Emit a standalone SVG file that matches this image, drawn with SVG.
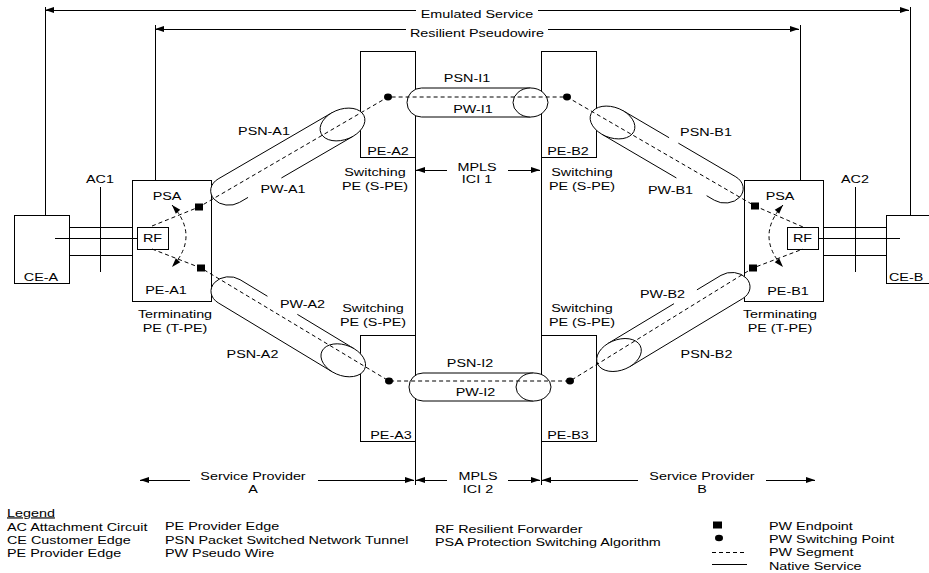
<svg xmlns="http://www.w3.org/2000/svg" width="929" height="573" viewBox="0 0 929 573">
<defs>
<style>
.ln{stroke:#000;stroke-width:1;fill:none}
.cr{shape-rendering:crispEdges}
.bx{stroke:#000;stroke-width:1;fill:none;shape-rendering:crispEdges}
.da{stroke:#000;stroke-width:1;fill:none;stroke-dasharray:4 3}
.tb{fill:#fff;stroke:none}
.el{fill:#fff;stroke:#000;stroke-width:1}
.ns{vector-effect:non-scaling-stroke}
.ep{fill:#000;stroke:none}
text{font-family:"Liberation Sans",Arial,Helvetica,sans-serif;font-size:11.5px;fill:#000}
.c{text-anchor:middle}
.u{text-decoration:underline}
</style>
<marker id="ah" markerUnits="userSpaceOnUse" markerWidth="10" markerHeight="7" refX="9" refY="3" orient="auto-start-reverse" overflow="visible"><path d="M0,0 L9,3 L0,6 Z" fill="#000"/></marker>
</defs>
<rect width="929" height="573" fill="#fff"/>

<g id="connectors">
  <g class="ln cr">
    <line x1="45" y1="7" x2="45" y2="215"/>
    <line x1="910" y1="7" x2="910" y2="215"/>
    <line x1="155" y1="25" x2="155" y2="180"/>
    <line x1="800" y1="25" x2="800" y2="180"/>
    <line x1="416" y1="10" x2="45" y2="10" marker-end="url(#ah)"/>
    <line x1="538" y1="10" x2="909" y2="10" marker-end="url(#ah)"/>
    <line x1="406" y1="29" x2="155" y2="29" marker-end="url(#ah)"/>
    <line x1="548" y1="29" x2="799" y2="29" marker-end="url(#ah)"/>
    <line x1="69" y1="227" x2="132" y2="227"/>
    <line x1="55" y1="238" x2="137" y2="238"/>
    <line x1="69" y1="255" x2="132" y2="255"/>
    <line x1="100" y1="187" x2="100" y2="272"/>
    <line x1="823" y1="227" x2="886" y2="227"/>
    <line x1="818" y1="238" x2="900" y2="238"/>
    <line x1="823" y1="255" x2="886" y2="255"/>
    <line x1="855" y1="187" x2="855" y2="272"/>
    <line x1="415" y1="51" x2="415" y2="485"/>
    <line x1="541" y1="51" x2="541" y2="485"/>
    <line x1="447" y1="170" x2="416" y2="170" marker-end="url(#ah)"/>
    <line x1="508" y1="170" x2="540" y2="170" marker-end="url(#ah)"/>
    <line x1="190" y1="480" x2="140" y2="480" marker-end="url(#ah)"/>
    <line x1="318" y1="480" x2="414" y2="480" marker-end="url(#ah)"/>
    <line x1="447" y1="480" x2="416" y2="480" marker-end="url(#ah)"/>
    <line x1="508" y1="480" x2="540" y2="480" marker-end="url(#ah)"/>
    <line x1="638" y1="480" x2="542" y2="480" marker-end="url(#ah)"/>
    <line x1="766" y1="480" x2="815" y2="480" marker-end="url(#ah)"/>
  </g>
  <text class="c" transform="matrix(1.25 0 0 1 477 18)">Emulated Service</text>
  <text class="c" transform="matrix(1.25 0 0 1 477 37)">Resilient Pseudowire</text>
  <text class="c" transform="matrix(1.25 0 0 1 100 183)">AC1</text>
  <text class="c" transform="matrix(1.25 0 0 1 855 183)">AC2</text>
  <text class="c" transform="matrix(1.25 0 0 1 477 170.5)">MPLS</text>
  <text class="c" transform="matrix(1.25 0 0 1 477 182.5)">ICI 1</text>
  <text class="c" transform="matrix(1.25 0 0 1 253 480)">Service Provider</text>
  <text class="c" transform="matrix(1.25 0 0 1 253 493)">A</text>
  <text class="c" transform="matrix(1.25 0 0 1 478 479.5)">MPLS</text>
  <text class="c" transform="matrix(1.25 0 0 1 478 493)">ICI 2</text>
  <text class="c" transform="matrix(1.25 0 0 1 702 480)">Service Provider</text>
  <text class="c" transform="matrix(1.25 0 0 1 702 493)">B</text>
</g>

<g id="ce-a">
  <rect class="bx" x="14" y="215" width="55" height="68"/>
  <text class="c" transform="matrix(1.25 0 0 1 41 281)">CE-A</text>
</g>
<g id="ce-b">
  <rect class="bx" x="886" y="215" width="55" height="68"/>
  <text transform="matrix(1.25 0 0 1 889 281)">CE-B</text>
</g>

<g id="pe-a1">
  <rect class="bx" x="132" y="180" width="79" height="121"/>
  <rect class="bx" x="137" y="227" width="31" height="22"/>
  <text class="c" transform="matrix(1.25 0 0 1 167 200)">PSA</text>
  <text class="c" transform="matrix(1.25 0 0 1 152.5 242)">RF</text>
  <text class="c" transform="matrix(1.25 0 0 1 166 293.5)">PE-A1</text>
  <text class="c" transform="matrix(1.25 0 0 1 175 318)">Terminating</text>
  <text class="c" transform="matrix(1.25 0 0 1 175 332)">PE (T-PE)</text>
</g>
<g id="pe-b1">
  <rect class="bx" x="744" y="180" width="79" height="121"/>
  <rect class="bx" x="787" y="227" width="31" height="22"/>
  <text class="c" transform="matrix(1.25 0 0 1 780 200)">PSA</text>
  <text class="c" transform="matrix(1.25 0 0 1 802.5 242)">RF</text>
  <text class="c" transform="matrix(1.25 0 0 1 788 295)">PE-B1</text>
  <text class="c" transform="matrix(1.25 0 0 1 780 318)">Terminating</text>
  <text class="c" transform="matrix(1.25 0 0 1 780 332)">PE (T-PE)</text>
</g>
<g id="pe-a2">
  <rect class="bx" x="360" y="51" width="55" height="106"/>
  <text class="c" transform="matrix(1.25 0 0 1 388 155)">PE-A2</text>
  <text class="c" transform="matrix(1.25 0 0 1 375 175.5)">Switching</text>
  <text class="c" transform="matrix(1.25 0 0 1 375 190)">PE (S-PE)</text>
</g>
<g id="pe-b2">
  <rect class="bx" x="541" y="51" width="55" height="106"/>
  <text class="c" transform="matrix(1.25 0 0 1 568 155)">PE-B2</text>
  <text class="c" transform="matrix(1.25 0 0 1 582 175.5)">Switching</text>
  <text class="c" transform="matrix(1.25 0 0 1 582 190)">PE (S-PE)</text>
</g>
<g id="pe-a3">
  <rect class="bx" x="360" y="335" width="55" height="106"/>
  <text class="c" transform="matrix(1.25 0 0 1 391 439)">PE-A3</text>
  <text class="c" transform="matrix(1.25 0 0 1 373 311.5)">Switching</text>
  <text class="c" transform="matrix(1.25 0 0 1 373 326)">PE (S-PE)</text>
</g>
<g id="pe-b3">
  <rect class="bx" x="541" y="335" width="55" height="106"/>
  <text class="c" transform="matrix(1.25 0 0 1 568 439)">PE-B3</text>
  <text class="c" transform="matrix(1.25 0 0 1 582 311.5)">Switching</text>
  <text class="c" transform="matrix(1.25 0 0 1 582 326)">PE (S-PE)</text>
</g>

<g id="tunnels">
  <g id="psn-a1" transform="scale(1.25 1) translate(274 124.5) rotate(-36.04)">
    <path class="tb" d="M0,-14.5 H-112.5 A14.5,14.5 0 0 0 -112.5,14.5 H0 Z"/>
    <path class="ln ns" d="M0,-14.5 H-112.5 A14.5,14.5 0 0 0 -112.5,14.5 H-104 M-71,14.5 H0"/>
    <ellipse class="el ns" cx="0" cy="0" rx="19.5" ry="14.5"/>
  </g>
  <g id="psn-a2" transform="scale(1.25 1) translate(274.6 360.3) rotate(37.1)">
    <path class="tb" d="M0,-14.5 H-114.5 A14.5,14.5 0 0 0 -114.5,14.5 H0 Z"/>
    <path class="ln ns" d="M0,-14.5 H-57 M-87,-14.5 H-114.5 A14.5,14.5 0 0 0 -114.5,14.5 H0"/>
    <ellipse class="el ns" cx="0" cy="0" rx="19.5" ry="14.5"/>
  </g>
  <g id="psn-b1" transform="scale(1.25 1) translate(490 122.5) rotate(36.25)">
    <path class="tb" d="M0,-14.5 H111.7 A14.5,14.5 0 0 1 111.7,14.5 H0 Z"/>
    <path class="ln ns" d="M0,-14.5 H45.5 M54.7,-14.5 H111.7 A14.5,14.5 0 0 1 111.7,14.5 H104 M74,14.5 H0"/>
    <ellipse class="el ns" cx="0" cy="0" rx="19.5" ry="14.5"/>
  </g>
  <g id="psn-b2" transform="scale(1.25 1) translate(495.2 355) rotate(-37)">
    <path class="tb" d="M0,-14.5 H113.1 A14.5,14.5 0 0 1 113.1,14.5 H0 Z"/>
    <path class="ln ns" d="M0,-14.5 H66 M89,-14.5 H113.1 A14.5,14.5 0 0 1 113.1,14.5 H0"/>
    <ellipse class="el ns" cx="0" cy="0" rx="19.5" ry="14.5"/>
  </g>
  <g id="psn-i1">
    <path class="tb" d="M530.5,88 H421.5 A14.5,14.5 0 0 0 421.5,117 H530.5 Z"/>
    <path class="ln" d="M530.5,88 H421.5 A14.5,14.5 0 0 0 421.5,117 H530.5"/>
    <ellipse class="el" cx="530.5" cy="102.5" rx="17.5" ry="14.5"/>
  </g>
  <g id="psn-i2">
    <path class="tb" d="M533.5,373 H423 A14,14 0 0 0 423,401 H533.5 Z"/>
    <path class="ln" d="M533.5,373 H423 A14,14 0 0 0 423,401 H533.5"/>
    <ellipse class="el" cx="533.5" cy="387" rx="17.5" ry="14"/>
  </g>
  <text class="c" transform="matrix(1.25 0 0 1 264 135)">PSN-A1</text>
  <text class="c" transform="matrix(1.25 0 0 1 283 193)">PW-A1</text>
  <text class="c" transform="matrix(1.25 0 0 1 252.5 358)">PSN-A2</text>
  <text class="c" transform="matrix(1.25 0 0 1 302.5 308)">PW-A2</text>
  <text class="c" transform="matrix(1.25 0 0 1 706 136)">PSN-B1</text>
  <text class="c" transform="matrix(1.25 0 0 1 670.5 194)">PW-B1</text>
  <text class="c" transform="matrix(1.25 0 0 1 706.5 358)">PSN-B2</text>
  <text class="c" transform="matrix(1.25 0 0 1 662.5 298)">PW-B2</text>
  <text class="c" transform="matrix(1.25 0 0 1 467 81.5)">PSN-I1</text>
  <text class="c" transform="matrix(1.25 0 0 1 473 112.5)">PW-I1</text>
  <text class="c" transform="matrix(1.25 0 0 1 470 367)">PSN-I2</text>
  <text class="c" transform="matrix(1.25 0 0 1 475.5 396)">PW-I2</text>
</g>

<g id="pw-segments">
  <path class="da" d="M152,226 L199,207 L388,97 L567,97 L755,206 L803,227"/>
  <path class="da" d="M152,249 L201,268 L389,381 L570,381 L753,268 L803,249"/>
  <path class="da" d="M172,205 Q200,236 172,267" marker-start="url(#ah)" marker-end="url(#ah)"/>
  <path class="da" d="M783,205 Q755,236 783,267" marker-start="url(#ah)" marker-end="url(#ah)"/>
  <rect class="ep" x="195" y="203.5" width="8" height="7"/>
  <rect class="ep" x="197" y="264.5" width="8" height="7"/>
  <rect class="ep" x="751" y="202.5" width="8" height="7"/>
  <rect class="ep" x="749" y="264.5" width="8" height="7"/>
  <ellipse class="ep" cx="388" cy="97" rx="4" ry="3.4"/>
  <ellipse class="ep" cx="567" cy="97" rx="4" ry="3.4"/>
  <ellipse class="ep" cx="389" cy="381" rx="4" ry="3.4"/>
  <ellipse class="ep" cx="570" cy="381" rx="4" ry="3.4"/>
</g>

<g id="legend">
  <text class="u" transform="matrix(1.25 0 0 1 7 516.5)">Legend</text>
  <text transform="matrix(1.25 0 0 1 7 531)">AC Attachment Circuit</text>
  <text transform="matrix(1.25 0 0 1 7 543.5)">CE Customer Edge</text>
  <text transform="matrix(1.25 0 0 1 7 556.5)">PE Provider Edge</text>
  <text transform="matrix(1.25 0 0 1 165 530)">PE Provider Edge</text>
  <text transform="matrix(1.25 0 0 1 165 543.5)">PSN Packet Switched Network Tunnel</text>
  <text transform="matrix(1.25 0 0 1 165 556.5)">PW Pseudo Wire</text>
  <text transform="matrix(1.25 0 0 1 435 532.5)">RF Resilient Forwarder</text>
  <text transform="matrix(1.25 0 0 1 435 546)">PSA Protection Switching Algorithm</text>
  <rect class="ep" x="713" y="521.5" width="9" height="7"/>
  <ellipse class="ep" cx="719" cy="538" rx="4" ry="3.3"/>
  <line class="da cr" x1="712" y1="552" x2="747" y2="552"/>
  <line class="ln cr" x1="712" y1="564" x2="747" y2="564"/>
  <text transform="matrix(1.25 0 0 1 769 529.5)">PW Endpoint</text>
  <text transform="matrix(1.25 0 0 1 769 542.5)">PW Switching Point</text>
  <text transform="matrix(1.25 0 0 1 769 556)">PW Segment</text>
  <text transform="matrix(1.25 0 0 1 769 570)">Native Service</text>
</g>
</svg>
